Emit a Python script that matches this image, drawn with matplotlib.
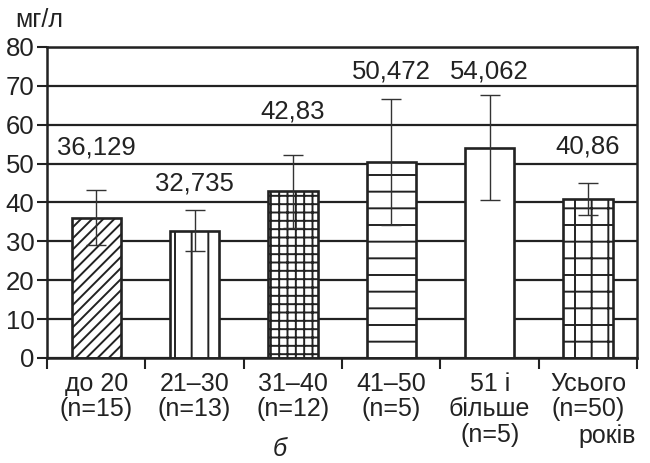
import numpy as np
import matplotlib.pyplot as plt

plt.rcParams['font.family'] = ['Liberation Sans', 'DejaVu Sans']
plt.rcParams['hatch.linewidth'] = 1.4

# Середні значення та похибки за віковими групами
groups = ['до 20\n(n=15)', '21–30\n(n=13)', '31–40\n(n=12)', '41–50\n(n=5)',
          '51 і\nбільше\n(n=5)', 'Усього\n(n=50)']
means = [36.129, 32.735, 42.83, 50.472, 54.062, 40.86]
errors = [7.0, 5.3, 9.3, 16.2, 13.5, 4.1]
value_labels = ['36,129', '32,735', '42,83', '50,472', '54,062', '40,86']
label_y = [54.1, 45.0, 63.5, 73.8, 73.8, 54.5]
hatches = ['///', '|', '++', '-', '', '+']

fig = plt.figure(figsize=(6.5, 4.63), dpi=100)
ax = fig.add_axes([0.0723, 0.2268, 0.908, 0.6717])

x = np.arange(len(groups))
ax.set_axisbelow(True)
ax.yaxis.grid(True, color='#222222', linewidth=1.6)
ax.bar(x, means, width=0.5, color='white', edgecolor='#222222',
       linewidth=1.9, hatch=hatches, zorder=2)
ax.errorbar(x, means, yerr=errors, fmt='none', ecolor='#333333',
            elinewidth=1.0, capsize=7.5, capthick=1.0, zorder=3)

for xi, txt, yi in zip(x, value_labels, label_y):
    ax.text(xi, yi, txt, ha='center', va='center', fontsize=18.5, color='#222222')

ax.set_xlim(-0.5, 5.5)
ax.set_ylim(0, 80)
ax.set_yticks(range(0, 81, 10))
ax.tick_params(axis='y', labelsize=18.5, length=7, width=1.5, pad=2,
               colors='#222222')

ax.set_xticks(x)
ax.set_xticklabels(groups, fontsize=18, linespacing=1.08, color='#222222')
ax.tick_params(axis='x', which='major', length=0, pad=10)
ax.set_xticks(np.arange(-0.5, 6, 1), minor=True)
ax.tick_params(axis='x', which='minor', length=8, width=1.5, color='#222222')

for s in ax.spines.values():
    s.set_linewidth(1.8)
    s.set_color('#222222')

fig.text(15 / 650, 1 - 20 / 463, 'мг/л', fontsize=18, va='center',
         ha='left', color='#222222')
fig.text(636 / 650, 1 - 436 / 463, 'років', fontsize=18, va='center',
         ha='right', color='#222222')
fig.text(280 / 650, 1 - 449 / 463, 'б', fontsize=18, va='center',
         ha='center', style='italic', color='#222222')

fig.savefig('out.png', dpi=100)
